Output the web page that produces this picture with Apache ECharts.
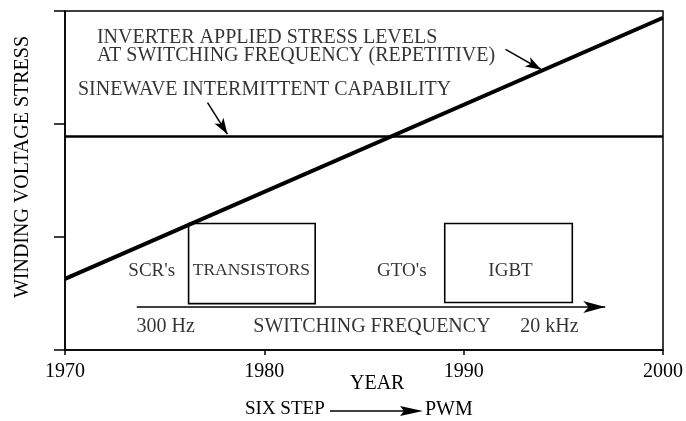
<!DOCTYPE html>
<html>
<head>
<meta charset="utf-8">
<script src="https://cdn.jsdelivr.net/npm/echarts@6/dist/echarts.min.js"></script>
<style>
  html, body { margin: 0; padding: 0; background: #fff; }
  #chart { width: 686px; height: 421px; }
</style>
</head>
<body>
<div id="chart"></div>
<script>
// values (y in arbitrary stress units, 0..3)
const years = [1970, 2000];
const inverterStress = [0.63, 2.94];
const sinewaveCapability = [1.89, 1.89];

// device boxes: [fromYear, toYear, lowStress, highStress]
const boxNames = ['TRANSISTORS', 'IGBT'];
const boxSpans = [
  [1976.2, 1982.55, 0.41, 1.12],
  [1989.05, 1995.45, 0.42, 1.12]
];

const deviceLabels = ["SCR's", 'TRANSISTORS', "GTO's", 'IGBT'];
const deviceYears = [1974.35, 1979.35, 1986.9, 1992.35];
const deviceLevel = 0.70;

const freqLabels = ['300 Hz', 'SWITCHING FREQUENCY', '20 kHz'];
const freqYears = [1975.05, 1985.4, 1994.3];
const freqLevel = 0.21;
const freqArrow = [[1973.6, 0.38], [1997.1, 0.38]];

const xTicks = [1970, 1980, 1990, 2000];

const FONT = '"Liberation Serif", "DejaVu Serif", serif';
const INK = '#000';

const chart = echarts.init(document.getElementById('chart'));

const option = {
  backgroundColor: '#fff',
  animation: false,
  textStyle: { fontFamily: FONT, color: INK },
  grid: {
    left: 65,
    right: 22,
    top: 11,
    bottom: 71,
    show: true,
    borderColor: INK,
    borderWidth: 1.5
  },
  xAxis: {
    type: 'value',
    min: 1970,
    max: 2000,
    interval: 10,
    axisLine: { show: true, lineStyle: { color: INK, width: 1.5 } },
    axisTick: { show: true, length: 5, lineStyle: { color: INK, width: 1.5 } },
    axisLabel: {
      color: INK,
      fontFamily: FONT,
      fontSize: 20,
      margin: 12,
      formatter: (v) => (xTicks.includes(v) ? String(v) : '')
    },
    splitLine: { show: false }
  },
  yAxis: {
    type: 'value',
    min: 0,
    max: 3,
    interval: 1,
    axisLine: { show: true, lineStyle: { color: INK, width: 1.5 } },
    axisTick: { show: true, length: 11, lineStyle: { color: INK, width: 1.5 } },
    axisLabel: { show: false },
    splitLine: { show: false }
  },
  series: [
    {
      name: 'inverter',
      type: 'line',
      data: years.map((y, i) => [y, inverterStress[i]]),
      showSymbol: false,
      lineStyle: { color: INK, width: 4 },
      markLine: {
        silent: true,
        symbol: ['none', 'arrow'],
        symbolSize: [8, 16],
        label: { show: false },
        lineStyle: { color: INK, width: 1.5, type: 'solid' },
        data: [[{ coord: [1992.1, 2.66] }, { coord: [1993.9, 2.48] }]]
      }
    },
    {
      name: 'sinewave',
      type: 'line',
      data: years.map((y, i) => [y, sinewaveCapability[i]]),
      showSymbol: false,
      lineStyle: { color: INK, width: 2.5 },
      markLine: {
        silent: true,
        symbol: ['none', 'arrow'],
        symbolSize: [8, 16],
        label: { show: false },
        lineStyle: { color: INK, width: 1.5, type: 'solid' },
        data: [[{ coord: [1977.15, 2.19] }, { coord: [1978.15, 1.91] }]]
      }
    },
    {
      name: 'boxes',
      type: 'custom',
      data: boxSpans.map((b, i) => b.concat([boxNames[i]])),
      encode: { x: [0, 1], y: [2, 3] },
      renderItem: function (params, api) {
        const p0 = api.coord([api.value(0), api.value(3)]);
        const p1 = api.coord([api.value(1), api.value(2)]);
        return {
          type: 'rect',
          shape: { x: p0[0], y: p0[1], width: p1[0] - p0[0], height: p1[1] - p0[1] },
          style: { fill: 'none', stroke: INK, lineWidth: 1.6 }
        };
      }
    },
    {
      name: 'freqArrow',
      type: 'line',
      data: [],
      markLine: {
        silent: true,
        symbol: ['none', 'arrow'],
        symbolSize: [9, 22],
        label: { show: false },
        lineStyle: { color: INK, width: 1.6, type: 'solid' },
        data: [[{ coord: freqArrow[0] }, { coord: freqArrow[1] }]]
      }
    },
    {
      name: 'deviceLabels',
      type: 'scatter',
      symbolSize: 0,
      data: deviceLabels.map((t, i) => {
        const item = { value: [deviceYears[i], deviceLevel, t] };
        // the long one is set a little tighter so it fits in its box
        if (t === 'TRANSISTORS') item.label = { fontSize: 17.5 };
        return item;
      }),
      label: {
        show: true,
        position: 'inside',
        formatter: (p) => p.value[2],
        fontFamily: FONT,
        fontSize: 19,
        color: INK
      }
    },
    {
      name: 'freqLabels',
      type: 'scatter',
      symbolSize: 0,
      data: freqLabels.map((t, i) => [freqYears[i], freqLevel, t]),
      label: {
        show: true,
        position: 'inside',
        formatter: (p) => p.value[2],
        fontFamily: FONT,
        fontSize: 20,
        color: INK
      }
    },
    {
      name: 'notes',
      type: 'scatter',
      symbolSize: 0,
      data: [
        [1971.6, 2.76, 'INVERTER APPLIED STRESS LEVELS'],
        [1971.6, 2.60, 'AT SWITCHING FREQUENCY (REPETITIVE)'],
        [1970.65, 2.30, 'SINEWAVE INTERMITTENT CAPABILITY']
      ],
      label: {
        show: true,
        position: 'right',
        distance: 0,
        formatter: (p) => p.value[2],
        fontFamily: FONT,
        fontSize: 20,
        color: INK
      }
    }
  ],
  graphic: [
    {
      type: 'text',
      x: 23,
      y: 167,
      rotation: Math.PI / 2,
      style: {
        text: 'WINDING VOLTAGE STRESS',
        font: '20px ' + FONT,
        fill: INK,
        align: 'center',
        verticalAlign: 'middle'
      }
    },
    {
      type: 'text',
      left: 350,
      top: 374,
      style: { text: 'YEAR', font: '20px ' + FONT, fill: INK }
    },
    {
      type: 'text',
      left: 245,
      top: 400,
      style: { text: 'SIX STEP', font: '19px ' + FONT, fill: INK }
    },
    {
      type: 'line',
      shape: { x1: 330, y1: 411, x2: 406, y2: 411 },
      style: { stroke: INK, lineWidth: 1.5 }
    },
    {
      type: 'polygon',
      shape: { points: [[400, 406], [423, 411], [400, 416], [404, 411]] },
      style: { fill: INK }
    },
    {
      type: 'text',
      left: 425,
      top: 400,
      style: { text: 'PWM', font: '20px ' + FONT, fill: INK }
    }
  ]
};

chart.setOption(option);
</script>
</body>
</html>
